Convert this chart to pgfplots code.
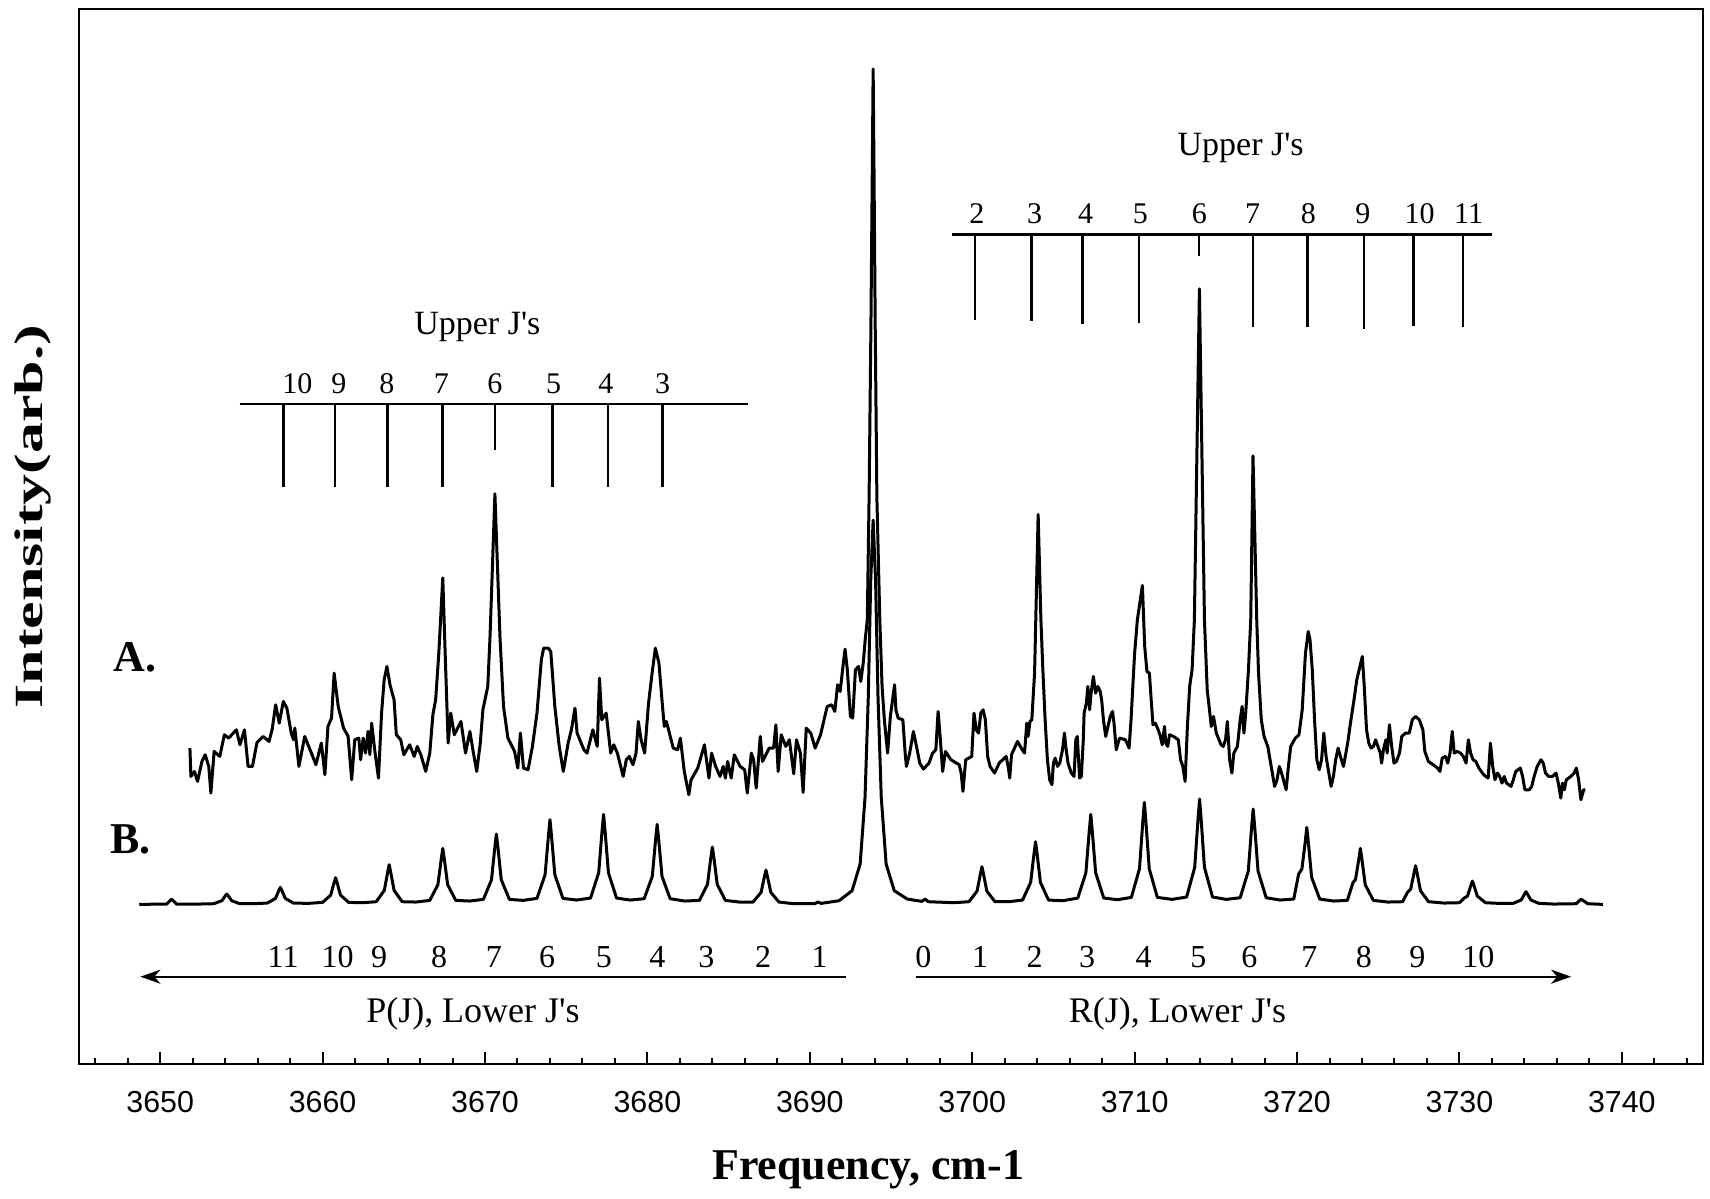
\documentclass[border=0pt]{standalone}
\usepackage{fontspec}
\setmainfont{Liberation Serif}
\newfontfamily\hv{Liberation Sans}
\usepackage{graphicx}
\usepackage{pgfplots}
\pgfplotsset{compat=1.18}
\usetikzlibrary{arrows.meta}

% trace A: measured spectrum
\pgfplotstableread{
x y
3651.83 948
3651.89 863
3652.11 878
3652.30 848
3652.57 908
3652.77 928
3652.99 893
3653.12 813
3653.32 938
3653.67 923
3653.95 988
3654.22 978
3654.50 993
3654.69 1003
3654.91 958
3655.19 1003
3655.41 893
3655.68 893
3655.96 965
3656.34 983
3656.70 968
3656.89 1003
3657.11 1078
3657.33 1023
3657.58 1088
3657.80 1068
3658.07 993
3658.21 973
3658.29 1008
3658.54 893
3658.90 983
3659.31 933
3659.59 898
3659.92 963
3660.14 868
3660.33 1013
3660.55 1038
3660.71 1173
3660.96 1073
3661.29 1008
3661.57 983
3661.79 853
3661.98 973
3662.23 978
3662.34 913
3662.50 978
3662.64 933
3662.80 998
3662.91 928
3663.02 1023
3663.22 938
3663.44 858
3663.63 1053
3663.79 1153
3663.96 1193
3664.15 1138
3664.40 1093
3664.54 988
3664.81 973
3665.00 928
3665.36 958
3665.64 923
3665.83 953
3666.05 928
3666.35 878
3666.60 933
3666.79 1048
3666.96 1093
3667.15 1228
3667.40 1459
3667.56 1213
3667.73 963
3667.89 1053
3668.11 988
3668.52 1028
3668.80 933
3669.07 998
3669.27 938
3669.49 878
3669.71 963
3669.87 1063
3670.17 1133
3670.31 1283
3670.61 1711
3670.92 1283
3671.14 1073
3671.41 978
3671.82 938
3672.02 888
3672.18 993
3672.37 888
3672.65 883
3672.92 953
3673.20 1053
3673.47 1213
3673.61 1248
3673.89 1248
3674.05 1238
3674.30 1073
3674.57 953
3674.82 878
3675.12 963
3675.32 1003
3675.54 1068
3675.67 993
3676.09 943
3676.28 933
3676.64 1003
3676.91 953
3677.05 1158
3677.19 1033
3677.46 1053
3677.74 933
3677.93 958
3678.15 933
3678.51 863
3678.70 913
3678.89 923
3679.11 898
3679.30 933
3679.44 1028
3679.61 973
3679.83 933
3680.07 1083
3680.29 1173
3680.49 1248
3680.71 1203
3680.93 1073
3681.04 1013
3681.17 1028
3681.59 948
3681.86 943
3682.03 978
3682.27 878
3682.55 808
3682.69 853
3683.10 888
3683.51 958
3683.79 858
3683.95 933
3684.20 893
3684.47 863
3684.67 893
3684.80 858
3684.94 908
3685.16 858
3685.35 928
3685.71 893
3685.99 883
3686.15 813
3686.40 933
3686.54 913
3686.70 828
3686.95 983
3687.09 908
3687.50 948
3687.77 948
3687.91 1018
3688.05 878
3688.24 988
3688.52 953
3688.74 973
3689.01 871
3689.18 973
3689.42 933
3689.59 815
3689.78 1008
3690.06 993
3690.33 948
3690.66 988
3691.07 1073
3691.35 1078
3691.54 1058
3691.71 1138
3691.87 1118
3692.04 1193
3692.17 1245
3692.31 1183
3692.50 1043
3692.64 1038
3692.81 1183
3693.00 1193
3693.14 1148
3693.30 1208
3693.41 1273
3693.54 1333
3693.65 1700
3693.76 2200
3693.85 2700
3693.90 2986
3693.95 2700
3694.03 2200
3694.13 1700
3694.31 1333
3694.45 1133
3694.59 1033
3694.79 933
3694.96 1043
3695.07 1083
3695.22 1138
3695.30 1063
3695.44 1038
3695.73 1033
3695.87 933
3695.95 893
3696.15 933
3696.38 998
3696.57 953
3696.77 903
3697.00 885
3697.34 903
3697.56 933
3697.76 943
3697.90 1058
3698.04 973
3698.18 878
3698.35 938
3698.69 913
3699.20 898
3699.32 873
3699.43 818
3699.60 913
3699.97 923
3700.11 1053
3700.25 1003
3700.39 993
3700.53 1053
3700.67 1063
3700.81 1033
3700.95 923
3701.10 893
3701.38 873
3701.66 903
3702.09 923
3702.23 888
3702.31 858
3702.42 928
3702.79 968
3703.08 943
3703.22 933
3703.36 1023
3703.44 983
3703.56 1028
3703.67 1033
3703.84 1173
3704.06 1649
3704.23 1333
3704.35 1183
3704.49 1033
3704.63 913
3704.77 853
3704.91 838
3705.00 903
3705.11 918
3705.25 893
3705.39 903
3705.56 943
3705.68 993
3705.76 953
3705.90 903
3706.10 873
3706.27 863
3706.38 973
3706.47 983
3706.61 858
3706.72 863
3706.84 973
3706.89 1053
3707.03 1083
3707.12 1133
3707.23 1063
3707.32 1113
3707.46 1163
3707.60 1113
3707.74 1133
3707.88 1118
3707.97 1093
3708.08 1033
3708.22 983
3708.36 1013
3708.50 1043
3708.64 1058
3708.73 1023
3708.87 943
3709.07 978
3709.44 973
3709.66 948
3709.78 1033
3709.89 1133
3710.00 1233
3710.17 1333
3710.48 1436
3710.62 1253
3710.76 1178
3710.91 1173
3711.02 1093
3711.13 1018
3711.27 1023
3711.41 1008
3711.56 988
3711.70 958
3711.84 1013
3711.92 963
3712.04 953
3712.15 988
3712.40 983
3712.69 973
3712.83 913
3712.97 893
3713.11 848
3713.25 1013
3713.39 1133
3713.54 1183
3713.68 1333
3713.99 2326
3714.30 1333
3714.47 1123
3714.61 1063
3714.72 1013
3714.86 1043
3715.03 993
3715.32 958
3715.46 953
3715.60 973
3715.71 1028
3715.85 913
3715.99 873
3716.11 933
3716.33 953
3716.50 1033
3716.62 1073
3716.73 993
3716.84 1053
3717.01 1183
3717.15 1333
3717.29 1825
3717.52 1333
3717.63 1173
3717.80 1033
3717.97 983
3718.20 953
3718.34 913
3718.62 833
3718.77 853
3718.91 893
3719.05 873
3719.33 823
3719.47 893
3719.61 953
3719.90 978
3720.12 988
3720.32 1063
3720.52 1233
3720.69 1298
3720.80 1273
3720.94 1183
3721.08 1033
3721.22 913
3721.37 883
3721.51 913
3721.65 993
3721.79 923
3721.96 873
3722.10 833
3722.24 863
3722.38 913
3722.53 948
3722.67 923
3722.86 893
3723.01 933
3723.15 973
3723.29 1023
3723.51 1093
3723.68 1153
3723.85 1188
3724.02 1223
3724.14 1133
3724.28 1003
3724.42 963
3724.56 948
3724.70 953
3724.84 973
3724.98 953
3725.13 933
3725.21 903
3725.32 943
3725.47 973
3725.55 933
3725.69 1018
3725.83 953
3725.97 903
3726.12 908
3726.31 933
3726.45 983
3726.68 993
3726.91 993
3727.10 1033
3727.30 1043
3727.53 1033
3727.75 1003
3727.87 938
3728.09 908
3728.38 898
3728.66 888
3728.80 878
3728.94 918
3729.14 923
3729.28 903
3729.42 933
3729.56 998
3729.68 933
3729.85 938
3730.07 933
3730.24 923
3730.41 903
3730.55 973
3730.69 933
3730.84 913
3731.01 908
3731.20 888
3731.49 868
3731.77 858
3731.91 963
3732.05 893
3732.19 853
3732.34 873
3732.48 863
3732.62 843
3732.76 863
3732.90 843
3733.18 833
3733.32 853
3733.47 878
3733.75 888
3733.89 863
3734.03 823
3734.31 823
3734.45 833
3734.60 863
3734.79 893
3735.02 913
3735.16 903
3735.30 873
3735.50 863
3735.73 863
3735.95 873
3736.09 843
3736.24 798
3736.35 843
3736.46 823
3736.58 853
3736.86 863
3737.06 873
3737.20 888
3737.34 853
3737.48 793
3737.65 823
3737.76 823
}\traceA

% trace B: simulated spectrum
\pgfplotstableread{
x y
3648.71 479
3650.40 480
3650.60 490
3650.70 494
3650.80 490
3651.00 480
3652.40 480
3653.30 481
3653.80 490
3654.00 504
3654.10 510
3654.20 504
3654.40 490
3654.90 481
3655.75 481
3656.60 483
3657.10 497
3657.30 520
3657.40 530
3657.50 520
3657.70 497
3658.20 483
3659.10 482
3660.00 485
3660.50 507
3660.70 543
3660.80 559
3660.90 543
3661.10 507
3661.60 485
3662.45 484
3663.30 487
3663.80 521
3664.00 574
3664.10 598
3664.20 574
3664.40 521
3664.90 487
3665.75 486
3666.60 491
3667.10 538
3667.30 613
3667.40 647
3667.50 613
3667.70 538
3668.20 491
3669.05 489
3669.90 494
3670.40 553
3670.60 648
3670.70 690
3670.80 648
3671.00 553
3671.50 494
3672.35 491
3673.20 497
3673.70 568
3673.90 682
3674.00 733
3674.10 682
3674.30 568
3674.80 497
3675.65 492
3676.50 498
3677.00 574
3677.20 695
3677.30 749
3677.40 695
3677.60 574
3678.10 498
3678.95 492
3679.80 496
3680.30 563
3680.50 671
3680.60 719
3680.70 671
3680.90 563
3681.40 496
3682.30 489
3683.20 491
3683.70 539
3683.90 617
3684.00 651
3684.10 617
3684.30 539
3684.80 491
3685.65 486
3686.50 486
3687.00 515
3687.20 561
3687.30 582
3687.40 561
3687.60 515
3688.10 486
3689.00 481
3690.30 481
3690.50 486
3690.70 482
3691.80 490
3692.60 520
3693.10 600
3693.40 800
3693.60 1100
3693.75 1450
3693.90 1632
3694.05 1450
3694.20 1100
3694.40 800
3694.70 600
3695.20 520
3696.00 495
3696.90 488
3697.10 495
3697.30 487
3698.85 484
3699.80 487
3700.30 519
3700.50 569
3700.60 592
3700.70 569
3700.90 519
3701.40 487
3702.25 487
3703.10 492
3703.60 545
3703.80 629
3703.90 667
3704.00 629
3704.20 545
3704.70 492
3705.60 490
3706.50 498
3707.00 574
3707.20 695
3707.30 749
3707.40 695
3707.60 574
3708.10 498
3708.95 493
3709.80 500
3710.30 586
3710.50 724
3710.60 785
3710.70 724
3710.90 586
3711.40 500
3712.30 494
3713.20 501
3713.70 590
3713.90 732
3714.00 795
3714.10 732
3714.30 590
3714.80 501
3715.65 494
3716.50 499
3717.00 579
3717.20 708
3717.30 765
3717.40 708
3717.60 579
3718.10 499
3718.95 492
3719.80 495
3720.10 570
3720.30 585
3720.50 664
3720.60 710
3720.70 664
3720.90 560
3721.40 495
3722.25 489
3723.10 491
3723.45 545
3723.60 553
3723.80 613
3723.90 647
3724.00 613
3724.20 538
3724.70 491
3725.60 486
3726.50 487
3726.80 515
3727.00 525
3727.20 572
3727.30 595
3727.40 572
3727.60 520
3728.10 487
3729.05 483
3730.00 484
3730.30 498
3730.50 504
3730.70 535
3730.80 549
3730.90 535
3731.10 504
3731.60 484
3732.45 482
3733.30 482
3733.80 492
3734.00 509
3734.10 517
3734.20 509
3734.40 492
3734.90 482
3735.80 480
3737.20 481
3737.40 491
3737.50 494
3737.60 491
3737.90 481
3738.83 479
}\traceB

\newcommand{\js}{J\textquotesingle s}

\begin{document}
\begin{tikzpicture}
\begin{axis}[
  scale only axis, width=406pt, height=263.75pt,
  xmin=3645, xmax=3745, ymin=0, ymax=3166,
  xtick={3650,3660,...,3740}, minor xtick={3646,3648,...,3744},
  xtick pos=left, tick align=inside,
  major tick length=3pt, minor tick length=1.5pt,
  ytick=\empty,
  axis line style={line width=0.6pt},
  tick style={black, line width=0.5pt},
  /pgf/number format/1000 sep={},
  /pgf/number format/assume math mode=true,
  xticklabel style={font=\hv\fontsize{7.6}{9}\selectfont, yshift=-3.2pt},
  xlabel={Frequency, cm-1},
  xlabel style={font=\bfseries\fontsize{11}{13}\selectfont,
    at={(rel axis cs:0.486,0)}, anchor=north, yshift=-18pt},
  ylabel={\scalebox{1.55}[1]{Intensity(arb.)}},
  ylabel style={font=\bfseries\fontsize{10}{12}\selectfont,
    at={(rel axis cs:0,0.519)}, anchor=center, yshift=11.6pt},
  every axis plot/.append style={line join=round},
  clip=false]

\addplot[black, line width=0.75pt] table {\traceB};
\addplot[black, line width=0.75pt] table {\traceA};

\coordinate (sw) at (rel axis cs:0,0);

\tikzset{stick/.style={line width=0.55pt}}
% P branch ladder (upper J's)
\draw[stick] (axis cs:3654.89,1981) -- (axis cs:3686.22,1981);
\draw[stick] (axis cs:3657.59,1981) -- (axis cs:3657.59,1733);
\draw[stick] (axis cs:3660.76,1981) -- (axis cs:3660.76,1733);
\draw[stick] (axis cs:3663.99,1981) -- (axis cs:3663.99,1733);
\draw[stick] (axis cs:3667.38,1981) -- (axis cs:3667.38,1733);
\draw[stick] (axis cs:3670.62,1981) -- (axis cs:3670.62,1843);
\draw[stick] (axis cs:3674.16,1981) -- (axis cs:3674.16,1733);
\draw[stick] (axis cs:3677.57,1981) -- (axis cs:3677.57,1733);
\draw[stick] (axis cs:3680.93,1981) -- (axis cs:3680.93,1733);
\begin{scope}[every node/.style={font=\fontsize{7.5}{9}\selectfont, inner sep=0pt}]
\node at (axis cs:3658.45,2041) {10};
\node at (axis cs:3661.00,2041) {9};
\node at (axis cs:3663.95,2041) {8};
\node at (axis cs:3667.31,2041) {7};
\node at (axis cs:3670.60,2041) {6};
\node at (axis cs:3674.23,2041) {5};
\node at (axis cs:3677.45,2041) {4};
\node at (axis cs:3680.94,2041) {3};
\end{scope}
\node[font=\fontsize{8.5}{10}\selectfont] at (axis cs:3669.53,2211) {Upper \js};

% R branch ladder (upper J's)
\draw[stick] (axis cs:3698.78,2489) -- (axis cs:3732.00,2489);
\draw[stick] (axis cs:3700.19,2489) -- (axis cs:3700.19,2234);
\draw[stick] (axis cs:3703.65,2489) -- (axis cs:3703.65,2229);
\draw[stick] (axis cs:3706.79,2489) -- (axis cs:3706.79,2221);
\draw[stick] (axis cs:3710.28,2489) -- (axis cs:3710.28,2224);
\draw[stick] (axis cs:3713.98,2489) -- (axis cs:3713.98,2424);
\draw[stick] (axis cs:3717.28,2489) -- (axis cs:3717.28,2211);
\draw[stick] (axis cs:3720.64,2489) -- (axis cs:3720.64,2211);
\draw[stick] (axis cs:3724.11,2489) -- (axis cs:3724.11,2205);
\draw[stick] (axis cs:3727.17,2489) -- (axis cs:3727.17,2216);
\draw[stick] (axis cs:3730.24,2489) -- (axis cs:3730.24,2211);
\begin{scope}[every node/.style={font=\fontsize{7.5}{9}\selectfont, inner sep=0pt}]
\node at (axis cs:3700.28,2551) {2};
\node at (axis cs:3703.84,2551) {3};
\node at (axis cs:3706.99,2551) {4};
\node at (axis cs:3710.36,2551) {5};
\node at (axis cs:3713.98,2551) {6};
\node at (axis cs:3717.27,2551) {7};
\node at (axis cs:3720.70,2551) {8};
\node at (axis cs:3724.06,2551) {9};
\node at (axis cs:3727.55,2551) {10};
\node at (axis cs:3730.57,2551) {11};
\end{scope}
\node[font=\fontsize{8.5}{10}\selectfont] at (axis cs:3716.53,2748) {Upper \js};

% lower J's: arrows and labels
\draw[line width=0.55pt, -{Stealth[length=5pt,width=3.5pt,inset=1.5pt]}]
  (axis cs:3692.23,262) -- (axis cs:3648.78,262);
\draw[line width=0.55pt, -{Stealth[length=5pt,width=3.5pt,inset=1.5pt]}]
  (axis cs:3696.52,262) -- (axis cs:3736.88,262);
\begin{scope}[every node/.style={font=\fontsize{8}{9}\selectfont, inner sep=0pt}]
\node at (axis cs:3657.57,321) {11};
\node at (axis cs:3660.93,321) {10};
\node at (axis cs:3663.48,321) {9};
\node at (axis cs:3667.18,321) {8};
\node at (axis cs:3670.54,321) {7};
\node at (axis cs:3673.82,321) {6};
\node at (axis cs:3677.32,321) {5};
\node at (axis cs:3680.61,321) {4};
\node at (axis cs:3683.63,321) {3};
\node at (axis cs:3687.12,321) {2};
\node at (axis cs:3690.61,321) {1};
\node at (axis cs:3697.00,321) {0};
\node at (axis cs:3700.49,321) {1};
\node at (axis cs:3703.84,321) {2};
\node at (axis cs:3707.07,321) {3};
\node at (axis cs:3710.56,321) {4};
\node at (axis cs:3713.92,321) {5};
\node at (axis cs:3717.07,321) {6};
\node at (axis cs:3720.76,321) {7};
\node at (axis cs:3724.12,321) {8};
\node at (axis cs:3727.41,321) {9};
\node at (axis cs:3731.17,321) {10};
\end{scope}
\node[font=\fontsize{9}{11}\selectfont] at (axis cs:3669.26,150) {P(J), Lower \js};
\node[font=\fontsize{9}{11}\selectfont] at (axis cs:3712.64,150) {R(J), Lower \js};

\node[font=\bfseries\fontsize{11}{13}\selectfont] at (axis cs:3648.44,1220) {A.};
\node[font=\bfseries\fontsize{11}{13}\selectfont] at (axis cs:3648.17,674) {B.};
\end{axis}
\pgfresetboundingbox
\path[use as bounding box] (sw) ++(-19.75pt,-33.5pt) rectangle ++(427.5pt,299.5pt);
\end{tikzpicture}
\end{document}
